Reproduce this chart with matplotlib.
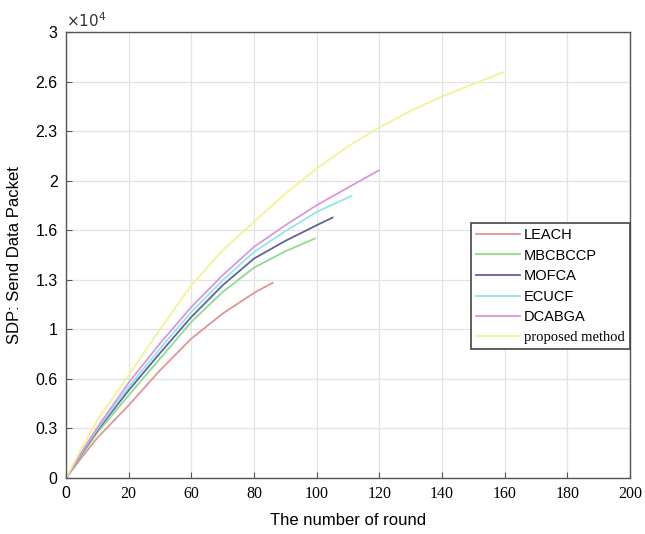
import matplotlib
matplotlib.use("Agg")
import matplotlib.pyplot as plt

# x positions are in axis units (ticks every 20, labels as printed on the chart)
x_ticks = [0, 20, 40, 60, 80, 100, 120, 140, 160, 180]
x_tick_labels = ['0', '20', '60', '80', '100', '120', '140', '160', '180', '200']
y_ticks = [0, 3333, 6667, 10000, 13333, 16667, 20000, 23333, 26667, 30000]
y_tick_labels = ['0', '0.3', '0.6', '1', '1.3', '1.6', '2', '2.3', '2.6', '3']

leach_x = [0, 5, 10, 20, 30, 40, 50, 60, 65.9]
leach_y = [0, 1380, 2700, 4890, 7245, 9376, 11059, 12450, 13121]

mbcbccp_x = [0, 5, 10, 20, 30, 40, 50, 60, 70, 79.4]
mbcbccp_y = [0, 1560, 3050, 5563, 8030, 10497, 12515, 14150, 15250, 16104]

mofca_x = [0, 5, 10, 20, 30, 40, 50, 60, 70, 80, 85.1]
mofca_y = [0, 1640, 3200, 5899, 8400, 10833, 12964, 14759, 15950, 17002, 17517]

ecucf_x = [0, 5, 10, 20, 30, 40, 50, 60, 70, 80, 91.1]
ecucf_y = [0, 1700, 3300, 6123, 8700, 11170, 13300, 15207, 16600, 17899, 18975]

dcabga_x = [0, 5, 10, 20, 30, 40, 50, 60, 70, 80, 90, 99.9]
dcabga_y = [0, 1750, 3400, 6415, 9050, 11506, 13637, 15544, 17000, 18347, 19535, 20702]

proposed_x = [0, 5, 10, 20, 30, 40, 50, 60, 70, 80, 90, 100, 110, 120, 130, 139.7]
proposed_y = [0, 2020, 3900, 6908, 10000, 12964, 15320, 17226, 19130, 20815, 22300,
              23580, 24700, 25660, 26500, 27300]

series = [
    ("LEACH", leach_x, leach_y, "#e39494"),
    ("MBCBCCP", mbcbccp_x, mbcbccp_y, "#8ddc8d"),
    ("MOFCA", mofca_x, mofca_y, "#62629c"),
    ("ECUCF", ecucf_x, ecucf_y, "#8fe6ea"),
    ("DCABGA", dcabga_x, dcabga_y, "#dd95dd"),
    ("proposed method", proposed_x, proposed_y, "#f3f394"),
]


def main():
    fig = plt.figure(figsize=(6.45, 5.34), dpi=100)
    ax = fig.add_axes([66 / 645, 1 - 478 / 534, 564 / 645, 446 / 534])

    for name, xs, ys, color in series:
        ax.plot(xs, ys, color=color, linewidth=1.3, label=name)

    ax.set_xlim(0, 180)
    ax.set_ylim(0, 30000)
    ax.set_xticks(x_ticks)
    ax.set_xticklabels(x_tick_labels)
    ax.set_yticks(y_ticks)
    ax.set_yticklabels(y_tick_labels, fontsize=11.5, family="Liberation Sans")
    for i, lab in enumerate(ax.get_xticklabels()):
        lab.set_fontsize(11.5)
        lab.set_family("Liberation Sans" if i == 0 else "Liberation Serif")

    ax.tick_params(direction="in", length=4, color="#555555", pad=6)
    ax.grid(True, color="#e3e3e3", linewidth=0.9)
    ax.set_axisbelow(True)
    for sp in ax.spines.values():
        sp.set_color("#555555")
        sp.set_linewidth(1.0)

    ax.set_xlabel("The number of round", fontsize=12, family="Liberation Sans",
                  labelpad=8)
    ax.set_ylabel("SDP: Send Data Packet", fontsize=12, family="Liberation Sans",
                  labelpad=10)
    ax.text(0.0, 1.012, r"$\times10^4$", transform=ax.transAxes, fontsize=11,
            color="#333333")

    leg = ax.legend(loc="upper right", bbox_to_anchor=(1.0, 0.572),
                    borderaxespad=0, fancybox=False, edgecolor="#444444",
                    framealpha=1, handlelength=3.0, handletextpad=0.3,
                    labelspacing=0.45, borderpad=0.35,
                    prop={"family": "Liberation Sans", "size": 10.5})
    leg.get_frame().set_linewidth(1.2)
    leg.get_texts()[-1].set_family("Liberation Serif")
    leg.get_texts()[-1].set_fontsize(10.5)

    fig.savefig("out.png", dpi=100)


if __name__ == "__main__":
    main()
